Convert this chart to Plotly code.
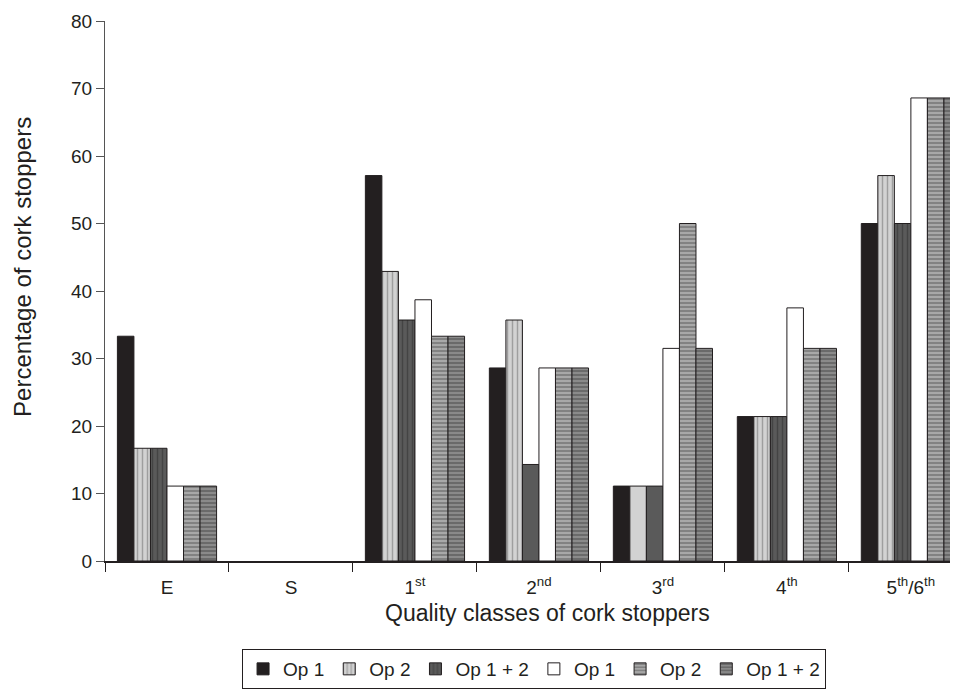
import plotly.graph_objects as go

categories = ["E", "S", "1st", "2nd", "3rd", "4th", "5th/6th"]
tick_labels = ["E", "S", "1<sup>st</sup>", "2<sup>nd</sup>", "3<sup>rd</sup>", "4<sup>th</sup>", "5<sup>th</sup>/6<sup>th</sup>"]

series_names = ["Op 1", "Op 2", "Op 1 + 2", "Op 1", "Op 2", "Op 1 + 2"]
op1_a = [33.3, 0, 57.1, 28.6, 11.1, 21.4, 50.0]
op2_a = [16.7, 0, 42.9, 35.7, 11.1, 21.4, 57.1]
op12_a = [16.7, 0, 35.7, 14.3, 11.1, 21.4, 50.0]
op1_b = [11.1, 0, 38.7, 28.6, 31.5, 37.5, 68.6]
op2_b = [11.1, 0, 33.3, 28.6, 50.0, 31.5, 68.6]
op12_b = [11.1, 0, 33.3, 28.6, 31.5, 31.5, 68.6]

values = [op1_a, op2_a, op12_a, op1_b, op2_b, op12_b]

x_title = "Quality classes of cork stoppers"
y_title = "Percentage of cork stoppers"

# pattern per bar (some bars in the reference are drawn plain)
op2_a_shapes = ["|", "|", "|", "|", "", "|", "|"]
op12_a_shapes = ["|", "|", "|", "", "", "|", "|"]

styles = [
    dict(color="#231f20", pattern=dict(shape="")),
    dict(color="#d2d2d2", pattern=dict(shape=op2_a_shapes, fgcolor="#6a6a6a", bgcolor="#d2d2d2", size=5, solidity=0.3, fillmode="overlay")),
    dict(color="#5a5a5a", pattern=dict(shape=op12_a_shapes, fgcolor="#2e2e2e", bgcolor="#5a5a5a", size=5, solidity=0.3, fillmode="overlay")),
    dict(color="#ffffff", pattern=dict(shape="")),
    dict(color="#a8a8a8", pattern=dict(shape="-", fgcolor="#3a3a3a", bgcolor="#a8a8a8", size=4, solidity=0.35, fillmode="overlay")),
    dict(color="#8a8a8a", pattern=dict(shape="-", fgcolor="#2e2e2e", bgcolor="#8a8a8a", size=4, solidity=0.35, fillmode="overlay")),
]

fig = go.Figure()
for name, vals, st in zip(series_names, values, styles):
    fig.add_trace(go.Bar(
        x=categories, y=vals, name=name,
        marker=dict(color=st["color"], pattern=st["pattern"],
                    line=dict(color="#231f20", width=[1 if v > 0 else 0 for v in vals])),
    ))

font_family = "Liberation Sans, Arial, sans-serif"
# the page body has an 8px default margin, so the figure is sized/offset to compensate
fig.update_layout(
    width=950, height=681,
    margin=dict(l=97, r=0, t=13, b=123),
    paper_bgcolor="white", plot_bgcolor="white",
    barmode="group", bargap=0.2, bargroupgap=0,
    font=dict(family=font_family, size=19, color="#231f20"),
    showlegend=True,
    legend=dict(orientation="h", x=0.503, xanchor="center", y=-0.2, yanchor="middle",
                bordercolor="#231f20", borderwidth=1, font=dict(size=19),
                traceorder="normal", itemwidth=30),
    xaxis=dict(
        type="category", range=[-0.5, 6.38], automargin=False,
        tickmode="array", tickvals=categories, ticktext=tick_labels,
        tickson="boundaries", ticks="outside", ticklen=9, tickcolor="#231f20",
        tickfont=dict(size=19), ticklabelstandoff=8,
        showline=True, linecolor="#231f20", linewidth=1.5,
        showgrid=False, zeroline=False,
    ),
    yaxis=dict(
        range=[0, 80], dtick=10, ticks="outside", ticklen=8, tickcolor="#555555",
        automargin=False, tickfont=dict(size=19),
        showline=True, linecolor="#555555", linewidth=1,
        showgrid=False, zeroline=False,
    ),
    annotations=[
        dict(text=x_title, xref="paper", yref="paper", x=0.519, y=-0.097,
             xanchor="center", yanchor="middle", showarrow=False, font=dict(size=23)),
        dict(text=y_title, xref="paper", yref="paper", x=-0.097, y=0.545, textangle=-90,
             xanchor="center", yanchor="middle", showarrow=False, font=dict(size=24)),
    ],
)

fig.write_html("out.html")
